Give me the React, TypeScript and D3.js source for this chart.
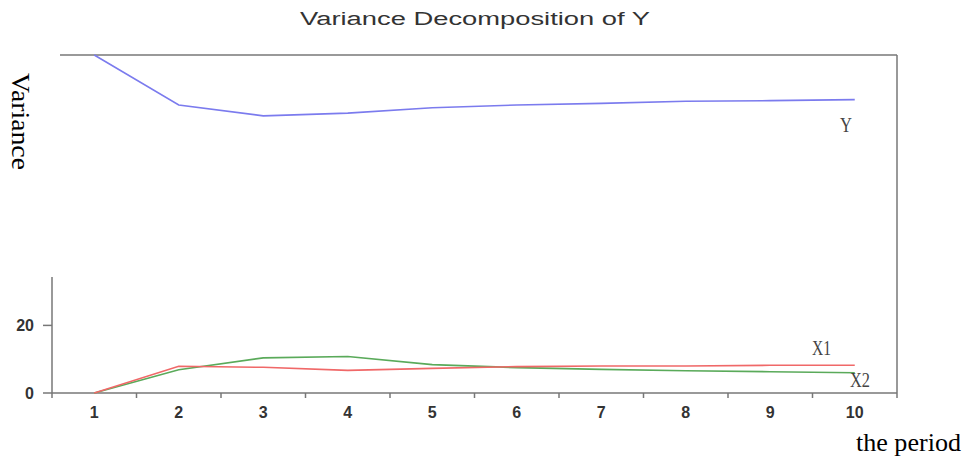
import React from "react";
import * as d3 from "d3";

const periods = ["1", "2", "3", "4", "5", "6", "7", "8", "9", "10"];
const seriesY = [100, 85.2, 82.0, 82.8, 84.4, 85.2, 85.7, 86.3, 86.5, 86.8];
const seriesX1 = [0, 7.9, 7.6, 6.7, 7.3, 7.8, 8.0, 8.0, 8.2, 8.2];
const seriesX2 = [0, 6.9, 10.4, 10.8, 8.4, 7.5, 7.0, 6.6, 6.3, 6.0];
const yTicks = [0, 20];
const title = "Variance Decomposition of Y";

const W = 966;
const H = 463;

export default function App() {
  const x = d3.scaleBand<string>().domain(periods).range([52, 897]).padding(0);
  const y = d3.scaleLinear().domain([0, 100]).range([393, 55]);
  const cx = (p: string) => (x(p) as number) + x.bandwidth() / 2;
  const line = d3
    .line<number>()
    .x((_, i) => cx(periods[i]))
    .y((d) => y(d));

  const axisColor = "#777";
  const boundaries = periods.map((p) => x(p) as number).concat([897]);

  return (
    <svg
      width={W}
      height={H}
      style={{ position: "absolute", left: 0, top: 0, background: "#fff" }}
    >
      <rect x={0} y={0} width={W} height={H} fill="#fff" />
      {/* title */}
      <text
        x={475}
        y={25}
        textAnchor="middle"
        fontFamily="Arial, 'Liberation Sans', sans-serif"
        fontSize={18}
        fill="#333"
        textLength={350}
        lengthAdjust="spacingAndGlyphs"
      >
        {title}
      </text>

      {/* frame */}
      <line x1={60} x2={897} y1={y(100)} y2={y(100)} stroke={axisColor} strokeWidth={1.5} />
      <line x1={897} x2={897} y1={y(100)} y2={y(0)} stroke={axisColor} strokeWidth={1.5} />
      <line x1={52} x2={897} y1={y(0)} y2={y(0)} stroke={axisColor} strokeWidth={1.5} />
      <line x1={52} x2={52} y1={y(0)} y2={y(34.3)} stroke={axisColor} strokeWidth={1.5} />

      {/* x ticks */}
      {boundaries.map((b, i) => (
        <line key={"xt" + i} x1={b} x2={b} y1={y(0)} y2={y(0) + 5} stroke={axisColor} strokeWidth={1.5} />
      ))}
      {periods.map((p) => (
        <text
          key={"xl" + p}
          x={cx(p)}
          y={418}
          textAnchor="middle"
          fontFamily="Arial, 'Liberation Sans', sans-serif"
          fontWeight="bold"
          fontSize={16}
          fill="#333"
        >
          {p}
        </text>
      ))}

      {/* y ticks */}
      {yTicks.map((t) => (
        <g key={"yt" + t}>
          <line x1={43} x2={52} y1={y(t)} y2={y(t)} stroke={axisColor} strokeWidth={1.5} />
          <text
            x={34}
            y={y(t) + 6}
            textAnchor="end"
            fontFamily="Arial, 'Liberation Sans', sans-serif"
            fontWeight="bold"
            fontSize={16}
            fill="#333"
          >
            {t}
          </text>
        </g>
      ))}

      {/* series */}
      <path d={line(seriesX2) || ""} fill="none" stroke="#5aaa5a" strokeWidth={1.6} />
      <path d={line(seriesX1) || ""} fill="none" stroke="#f06868" strokeWidth={1.6} />
      <path d={line(seriesY) || ""} fill="none" stroke="#7b7bee" strokeWidth={1.6} />

      {/* series labels */}
      <text x={840} y={132} fontFamily="'Liberation Serif', 'DejaVu Serif', serif" fontSize={20} fill="#444" textLength={12} lengthAdjust="spacingAndGlyphs">
        Y
      </text>
      <text x={812} y={355} fontFamily="'Liberation Serif', 'DejaVu Serif', serif" fontSize={20} fill="#444" textLength={19} lengthAdjust="spacingAndGlyphs">
        X1
      </text>
      <text x={850} y={387} fontFamily="'Liberation Serif', 'DejaVu Serif', serif" fontSize={20} fill="#444" textLength={20} lengthAdjust="spacingAndGlyphs">
        X2
      </text>

      {/* axis titles */}
      <text
        transform="translate(12,73) rotate(90)"
        fontFamily="'Liberation Serif', 'Times New Roman', serif"
        fontSize={25}
        fill="#000"
        textLength={97}
        lengthAdjust="spacingAndGlyphs"
      >
        Variance
      </text>
      <text
        x={856}
        y={451}
        fontFamily="'Liberation Serif', 'Times New Roman', serif"
        fontSize={25}
        fill="#000"
        textLength={105}
        lengthAdjust="spacingAndGlyphs"
      >
        the period
      </text>
    </svg>
  );
}
